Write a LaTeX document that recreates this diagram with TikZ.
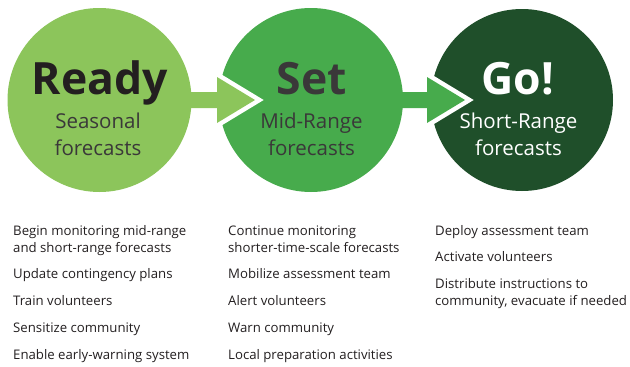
\documentclass[tikz,border=0pt]{standalone}
\usepackage{fontspec}
\setmainfont{Open Sans}
\definecolor{gA}{HTML}{8CC55B}
\definecolor{gB}{HTML}{47AB4C}
\definecolor{gC}{HTML}{1F4F2A}
\definecolor{ink}{HTML}{231F20}
\definecolor{sub}{HTML}{3A3839}
\tikzset{
  circ/.style={circle, inner sep=0pt, minimum size=184pt},
  ttl/.style={anchor=base, inner sep=0pt, font=\fontsize{44.5}{44}\selectfont\bfseries},
  subt/.style={anchor=base, inner sep=0pt, font=\fontsize{20.5}{20}\selectfont},
  item/.style={anchor=base west, inner sep=0pt, text=ink, font=\fontsize{13.2}{17}\selectfont},
}
\begin{document}
\begin{tikzpicture}[x=1pt,y=-1pt]
\useasboundingbox (0,0) rectangle (630,367);
% circles
\node[circ, fill=gA] (c1) at (99.5,100) {};
\node[circ, fill=gB] (c2) at (311,100) {};
\node[circ, fill=gC, minimum size=182pt] (c3) at (522,100) {};
% arrow 1
\draw[white, line width=9pt, line join=miter] (217,77) -- (255,100) -- (217,123);
\fill[gA] (180,92) -- (217,92) -- (217,77) -- (255,100) -- (217,123) -- (217,108) -- (180,108) -- cycle;
% arrow 2
\draw[white, line width=9pt, line join=miter] (427,77) -- (465,100) -- (427,123);
\fill[gB] (395,92) -- (427,92) -- (427,77) -- (465,100) -- (427,123) -- (427,108) -- (395,108) -- cycle;
% titles
\node[ttl, text=ink] (t1) at (100,94) {Ready};
\node[subt, text=sub] (s1a) at (98,128) {Seasonal};
\node[subt, text=sub] (s1b) at (98,155) {forecasts};
\node[ttl, text=sub] (t2) at (312,94) {Set};
\node[subt, text=sub] (s2a) at (311.5,128) {Mid-Range};
\node[subt, text=sub] (s2b) at (311.5,155) {forecasts};
\node[ttl, text=white] (t3) at (518,94) {Go!};
\node[subt, text=white] (s3a) at (518.5,128) {Short-Range};
\node[subt, text=white] (s3b) at (518.5,155) {forecasts};
% column 1
\node[item] (a1) at (13,235) {Begin monitoring mid-range};
\node[item] (a1b) at (13,252) {and short-range forecasts};
\node[item] (a2) at (13,278) {Update contingency plans};
\node[item] (a3) at (13,305) {Train volunteers};
\node[item] (a4) at (13,332) {Sensitize community};
\node[item] (a5) at (13,359) {Enable early-warning system};
% column 2
\node[item] (b1) at (228,235) {Continue monitoring};
\node[item] (b1b) at (228,252) {shorter-time-scale forecasts};
\node[item] (b2) at (228,278) {Mobilize assessment team};
\node[item] (b3) at (228,305) {Alert volunteers};
\node[item] (b4) at (228,332) {Warn community};
\node[item] (b5) at (228,359) {Local preparation activities};
% column 3
\node[item] (d1) at (435,235) {Deploy assessment team};
\node[item] (d2) at (435,261) {Activate volunteers};
\node[item] (d3) at (435,288) {Distribute instructions to};
\node[item] (d3b) at (435,305) {community, evacuate if needed};
\end{tikzpicture}
\end{document}
